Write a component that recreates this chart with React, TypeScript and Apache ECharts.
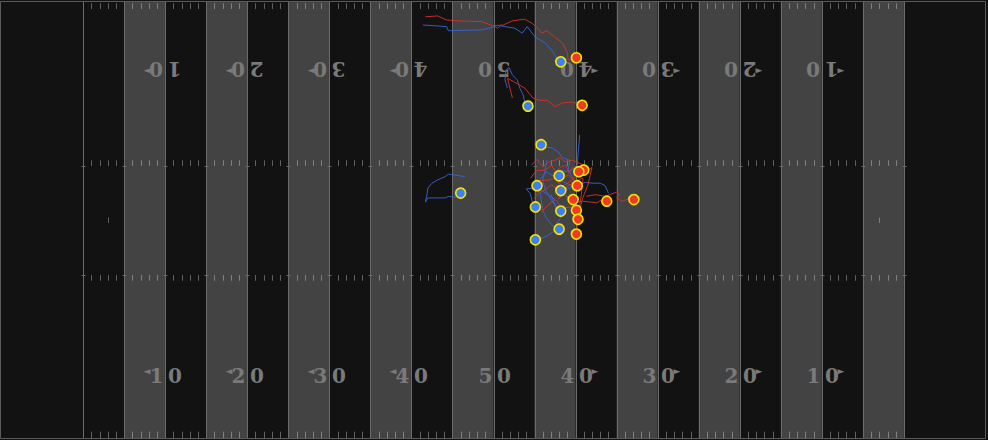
import React, { useEffect, useRef } from "react";
import * as echarts from "echarts";

// ---- field geometry (yards) ----
const FIELD_LENGTH = 120;
const FIELD_WIDTH = 53.3;
const GRAY_STRIPES = [15, 25, 35, 45, 55, 65, 75, 85, 95, 105];
const YARD_LINES = [10, 15, 20, 25, 30, 35, 40, 45, 50, 55, 60, 65, 70, 75, 80, 85, 90, 95, 100, 105, 110];
const NUMBER_LINES = [20, 30, 40, 50, 60, 70, 80, 90, 100];
const NUMBER_LABELS = ["10", "20", "30", "40", "50", "40", "30", "20", "10"];
const HASH_ROWS = [[0.15, 0.85], [19.3, 20.0], [33.3, 34.0], [52.4, 53.2]];
const PAT_MARKS = [13, 107];
const HASH_YARDS: number[] = [];
for (let y = 11; y < 110; y++) if (y % 5 !== 0) HASH_YARDS.push(y);

// ---- player tracks (x yards, y yards from top sideline) ----
const blueA = [[51.4,2.8],[54.3,3.0],[54.5,3.5],[58.6,3.4],[60.2,3.0],[60.5,3.2],[60.8,2.9],[62.6,3.2],[63.5,3.8],[64.1,3.0],[65.1,4.3],[66.3,5.0],[67.1,5.9],[67.7,6.8],[68.2,7.3]];
const blueB = [[61.7,10.5],[61.4,9.5],[61.5,8.3],[61.9,8.0],[62.3,8.9],[62.9,9.5],[63.2,10.5],[63.6,11.3],[63.8,12.2],[64.2,12.7]];
const blueC = [[56.5,21.3],[55.3,21.1],[54.5,21.0],[54.1,21.3],[53.2,21.7],[52.5,22.1],[52.0,22.7],[51.9,23.5],[51.7,24.4],[52.0,23.9],[52.9,23.9],[54.1,23.9],[54.5,23.7],[55.1,23.8],[55.7,23.8],[56.0,23.3]];
const blueD = [[69.7,21.5],[69.1,20.5],[69.3,19.3],[68.4,19.0],[67.9,18.3],[67.1,17.8],[66.5,17.7],[65.8,17.4]];
const blueE = [[70.5,16.2],[70.4,17.4],[70.3,18.7],[70.2,19.9],[69.6,20.5],[68.8,20.7],[68.4,20.5],[68.0,21.2]];
const blueF = [[69.9,22.9],[69.1,22.2],[68.1,21.7],[67.1,21.1],[66.4,20.7],[65.8,21.5],[65.3,22.4]];
const blueG = [[74.0,23.3],[73.6,22.4],[73.0,22.1],[72.1,22.1],[71.2,22.0],[70.3,22.3],[69.3,22.7],[68.7,22.9],[68.2,23.0]];
const blueH = [[67.5,24.1],[66.6,23.5],[65.7,22.9],[64.8,22.7],[64.0,22.8],[64.5,23.4],[64.7,24.3],[65.1,25.0]];
const blueI = [[66.5,19.3],[66.3,20.5],[66.0,21.7],[66.3,22.9],[66.9,23.9],[67.5,24.8],[67.9,25.6],[68.2,25.5]];
const blueJ = [[65.7,22.9],[65.8,24.1],[66.0,25.4],[66.4,26.3],[67.0,27.1],[67.5,27.6],[68.0,27.7]];
const blueK = [[67.0,23.5],[67.6,25.0],[68.2,26.3],[67.6,27.2],[67.3,28.0],[66.6,28.5],[65.9,28.8],[65.1,29.0]];

const redA = [[51.7,1.8],[53.2,1.7],[54.3,2.2],[55.7,2.3],[58.6,2.4],[59.9,2.9],[61.2,2.8],[62.3,2.3],[63.8,2.1],[64.7,2.6],[65.4,3.2],[65.9,3.8],[66.5,3.5],[67.5,4.3],[68.4,5.0],[69.0,6.2],[69.1,7.1],[70.1,6.8]];
const redB = [[62.3,11.7],[62.0,10.5],[61.7,9.3],[62.6,9.8],[63.8,10.5],[64.8,11.7],[65.7,12.0],[66.6,12.0],[67.5,12.8],[68.4,12.3],[69.6,12.2],[70.8,12.6]];
const redC = [[64.6,19.9],[65.3,19.2],[66.0,20.1],[66.8,19.5],[67.5,19.3],[68.1,19.0],[68.7,19.5],[69.6,19.3],[70.3,19.6],[71.0,19.9],[71.0,20.5]];
const redD = [[64.5,21.5],[65.2,20.6],[66.3,20.5],[67.1,19.9],[67.6,20.8],[68.1,20.2],[68.8,19.9],[69.2,20.9],[69.6,20.2],[70.4,20.7]];
const redE = [[65.0,22.7],[65.6,21.8],[66.9,21.7],[67.6,21.1],[68.0,22.2],[68.4,21.5],[69.1,21.1],[69.8,21.7],[70.2,22.4]];
const redF = [[64.9,24.0],[65.5,23.3],[66.3,22.9],[67.1,22.3],[67.9,22.9],[68.0,24.0],[68.4,23.5],[69.0,23.7],[69.7,24.1]];
const redG = [[69.9,24.5],[70.8,24.3],[71.8,24.4],[72.6,24.5],[73.2,24.1],[73.8,24.3]];
const redH = [[71.3,23.7],[72.4,23.5],[73.6,23.7],[74.4,23.4],[75.0,23.2],[75.4,23.5],[75.0,23.9],[75.7,24.3],[76.4,24.0],[77.1,24.1]];
const redI = [[65.8,25.6],[66.6,24.8],[67.5,24.1],[68.1,24.8],[68.3,26.0],[68.7,25.1],[69.3,25.0],[70.1,25.4]];
const redJ = [[68.7,22.3],[69.6,21.7],[70.5,21.1],[71.5,20.5],[72.0,20.2],[71.5,22.3],[70.8,24.1],[70.3,26.5]];
const redK = [[67.5,23.5],[68.4,22.9],[69.3,22.3],[70.3,21.7],[70.9,21.5],[70.7,23.5],[70.4,25.4],[70.2,27.2],[70.1,28.3]];

const BLUE_TRACKS = [blueA, blueB, blueC, blueD, blueE, blueF, blueG, blueH, blueI, blueJ, blueK];
const RED_TRACKS = [redA, redB, redC, redD, redE, redF, redG, redH, redI, redJ, redK];

const BG = "#121212";
const STRIPE = "#434343";
const LINE = "#6b6b6b";
const MARK = "rgba(255,255,255,0.33)";
const NUM = "#7a7a7a";
const NUM_FONT = "bold 20px 'DejaVu Serif', 'Liberation Serif', serif";

export default function App() {
  const ref = useRef<HTMLDivElement>(null);
  useEffect(() => {
    if (!ref.current) return;
    const chart = echarts.init(ref.current, undefined, { renderer: "svg" });

    const trackSeries = (tracks: number[][][], color: string) =>
      tracks.map((t) => ({
        type: "line",
        data: t,
        showSymbol: false,
        silent: true,
        z: 4,
        lineStyle: { color, width: 1, opacity: 0.9 },
      }));

    const option: any = {
      animation: false,
      backgroundColor: BG,
      grid: { left: 1, right: 2, top: 2, bottom: 1 },
      xAxis: { type: "value", min: 0, max: FIELD_LENGTH, show: false },
      yAxis: { type: "value", min: 0, max: FIELD_WIDTH, inverse: true, show: false },
      series: [
        {
          type: "custom",
          silent: true,
          z: 1,
          data: GRAY_STRIPES.map((s) => [s, s + 5]),
          renderItem: (p: any, api: any) => {
            const a = api.coord([api.value(0), 0]);
            const b = api.coord([api.value(1), FIELD_WIDTH]);
            return {
              type: "rect",
              shape: { x: a[0], y: Math.min(a[1], b[1]), width: b[0] - a[0], height: Math.abs(b[1] - a[1]) },
              style: { fill: STRIPE },
            };
          },
        },
        {
          type: "custom",
          silent: true,
          z: 2,
          data: YARD_LINES.map((x) => [x, 0]),
          renderItem: (p: any, api: any) => {
            const a = api.coord([api.value(0), 0]);
            const b = api.coord([api.value(0), FIELD_WIDTH]);
            const x = Math.round(a[0]) + 0.5;
            const rows = [HASH_ROWS[1][1], HASH_ROWS[2][0]];
            const ticks = rows.map((r) => {
              const c = api.coord([api.value(0), r]);
              return {
                type: "line",
                shape: { x1: x - 2, y1: Math.round(c[1]) + 0.5, x2: x + 2, y2: Math.round(c[1]) + 0.5 },
                style: { stroke: LINE, lineWidth: 1 },
              };
            });
            return {
              type: "group",
              children: [
                { type: "line", shape: { x1: x, y1: a[1], x2: x, y2: b[1] }, style: { stroke: LINE, lineWidth: 1 } },
                ...ticks,
              ],
            };
          },
        },
        {
          type: "custom",
          silent: true,
          z: 2,
          data: [[0, 0]],
          renderItem: (p: any, api: any) => {
            const a = api.coord([0, 0]);
            const b = api.coord([FIELD_LENGTH, FIELD_WIDTH]);
            return {
              type: "rect",
              shape: { x: a[0] - 0.5, y: a[1] - 0.5, width: b[0] - a[0], height: b[1] - a[1] },
              style: { fill: "none", stroke: "#5a5a5a", lineWidth: 1 },
            };
          },
        },
        {
          type: "custom",
          silent: true,
          z: 2,
          data: HASH_YARDS.map((x) => [x, 0]),
          renderItem: (p: any, api: any) => {
            const xv = api.value(0);
            const children = HASH_ROWS.map((r) => {
              const a = api.coord([xv, r[0]]);
              const b = api.coord([xv, r[1]]);
              const x = Math.round(a[0]) + 0.5;
              return { type: "line", shape: { x1: x, y1: a[1], x2: x, y2: b[1] }, style: { stroke: MARK, lineWidth: 1 } };
            });
            return { type: "group", children };
          },
        },
        {
          type: "custom",
          silent: true,
          z: 2,
          data: PAT_MARKS.map((x) => [x, 0]),
          renderItem: (p: any, api: any) => {
            const a = api.coord([api.value(0), 26.3]);
            const b = api.coord([api.value(0), 26.95]);
            const x = Math.round(a[0]) + 0.5;
            return { type: "line", shape: { x1: x, y1: a[1], x2: x, y2: b[1] }, style: { stroke: MARK, lineWidth: 1 } };
          },
        },
        {
          type: "custom",
          silent: true,
          z: 3,
          data: NUMBER_LINES.map((x) => [x, 0]),
          renderItem: (p: any, api: any) => {
            const xv = api.value(0);
            const label = NUMBER_LABELS[p.dataIndex];
            const bot = api.coord([xv, 45.6]);
            const top = api.coord([xv, 8.2]);
            const x = Math.round(bot[0]) + 0.5;
            const digits = (yy: number) => [
              { type: "text", x: -2, y: yy, style: { text: label[0], align: "right", verticalAlign: "middle", font: NUM_FONT, fill: NUM } },
              { type: "text", x: 2.5, y: yy, style: { text: label[1], align: "left", verticalAlign: "middle", font: NUM_FONT, fill: NUM } },
            ];
            const children: any[] = [
              { type: "group", x, y: bot[1], children: digits(0) },
              { type: "group", x, y: top[1], rotation: Math.PI, children: digits(0) },
            ];
            if (xv !== 60) {
              const s = xv < 60 ? -1 : 1;
              const tip = x + s * 22;
              const base = x + s * 15;
              children.push({
                type: "polygon",
                shape: { points: [[tip, bot[1] - 4], [base, bot[1] - 6.5], [base, bot[1] - 1.5]] },
                style: { fill: NUM },
              });
              children.push({
                type: "polygon",
                shape: { points: [[tip, top[1] + 1.5], [base, top[1] - 1], [base, top[1] + 4]] },
                style: { fill: NUM },
              });
            }
            return { type: "group", children };
          },
        },
        ...trackSeries(BLUE_TRACKS, "#3a63dc"),
        ...trackSeries(RED_TRACKS, "#d6322e"),
        {
          type: "scatter",
          silent: true,
          z: 6,
          symbolSize: 10,
          data: BLUE_TRACKS.map((t) => t[t.length - 1]),
          itemStyle: { color: "#3f80f2", borderColor: "#f4e600", borderWidth: 1.6, opacity: 1 },
        },
        {
          type: "scatter",
          silent: true,
          z: 6,
          symbolSize: 10,
          data: RED_TRACKS.map((t) => t[t.length - 1]),
          itemStyle: { color: "#f03a26", borderColor: "#f4e600", borderWidth: 1.6, opacity: 1 },
        },
      ],
    };
    chart.setOption(option);
    return () => chart.dispose();
  }, []);
  return <div ref={ref} style={{ position: "absolute", left: 0, top: 0, width: 988, height: 440 }} />;
}
